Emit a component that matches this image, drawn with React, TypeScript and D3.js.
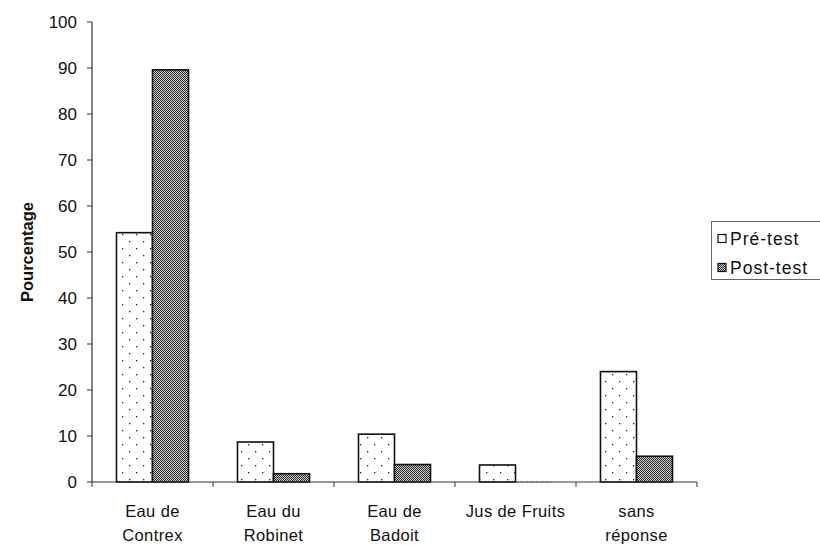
import React from "react";
import * as d3 from "d3";

const categories = ["Eau de\nContrex", "Eau du\nRobinet", "Eau de\nBadoit", "Jus de Fruits", "sans\nréponse"];
const preTest = [54.2, 8.7, 10.4, 3.7, 24.0];
const postTest = [89.6, 1.8, 3.8, 0, 5.6];
const seriesNames = ["Pré-test", "Post-test"];
const yTicks = [0, 10, 20, 30, 40, 50, 60, 70, 80, 90, 100];

const W = 820, H = 545;
const left = 92, right = 697, top = 22, bottom = 482;

export default function App() {
  const x = d3.scaleBand<string>().domain(categories).range([left, right]).paddingInner(0).paddingOuter(0);
  const y = d3.scaleLinear().domain([0, 100]).range([bottom, top]);
  const sub = d3.scaleBand<string>().domain(seriesNames).range([0, x.bandwidth()]).paddingInner(0).paddingOuter(0.68);
  const font = "'Liberation Sans', Arial, sans-serif";
  const data = [preTest, postTest];
  const fills = ["url(#dots)", "url(#dense)"];
  const boundaries = categories.map((c) => (x(c) as number)).concat([right]);

  return (
    <svg width={W} height={H} style={{ position: "absolute", left: 0, top: 0, background: "#fff" }}>
      <defs>
        <pattern id="dots" width="14" height="14" patternUnits="userSpaceOnUse">
          <rect width="14" height="14" fill="#fff" />
          <rect x="3" y="3" width="1.3" height="1.3" fill="#222" />
          <rect x="10" y="10" width="1.3" height="1.3" fill="#222" />
        </pattern>
        <pattern id="dense" width="2" height="2" patternUnits="userSpaceOnUse">
          <rect width="2" height="2" fill="#cfcfcf" />
          <rect x="0" y="0" width="1" height="1" fill="#2a2a2a" />
          <rect x="1" y="1" width="1" height="1" fill="#2a2a2a" />
        </pattern>
      </defs>

      {/* bars */}
      {categories.map((c, i) => (
        <g key={c}>
          {data.map((vals, s) => {
            const v = vals[i];
            const bx = (x(c) as number) + (sub(seriesNames[s]) as number);
            const bw = sub.bandwidth();
            if (v <= 0) {
              return <line key={s} x1={bx} x2={bx + bw} y1={y(0)} y2={y(0)} stroke="#999" strokeDasharray="3,2" />;
            }
            return (
              <rect key={s} x={bx} y={y(v)} width={bw} height={y(0) - y(v)} fill={fills[s]} stroke="#111" strokeWidth={1.6} />
            );
          })}
        </g>
      ))}

      {/* y axis */}
      <line x1={left} x2={left} y1={top} y2={bottom} stroke="#333" strokeWidth={1.2} />
      {yTicks.map((t) => (
        <g key={t}>
          <line x1={left - 5} x2={left} y1={y(t)} y2={y(t)} stroke="#333" strokeWidth={1} />
          <text x={left - 15} y={y(t)} dy="0.36em" textAnchor="end" fontFamily={font} fontSize={17} fill="#111">
            {t}
          </text>
        </g>
      ))}

      {/* x axis */}
      <line x1={left} x2={right} y1={bottom} y2={bottom} stroke="#333" strokeWidth={1.2} />
      {boundaries.map((b, i) => (
        <line key={i} x1={b} x2={b} y1={bottom} y2={bottom + 5} stroke="#333" strokeWidth={1} />
      ))}
      {categories.map((c) => {
        const lines = c.split("\n");
        const cx = (x(c) as number) + x.bandwidth() / 2;
        return (
          <text key={c} x={cx} y={517} textAnchor="middle" fontFamily={font} fontSize={16.5} letterSpacing={0.4} fill="#111">
            {lines.map((l, k) => (
              <tspan key={k} x={cx} dy={k === 0 ? 0 : 24}>
                {l}
              </tspan>
            ))}
          </text>
        );
      })}

      {/* y label */}
      <text
        transform={`translate(33,252) rotate(-90)`}
        textAnchor="middle"
        fontFamily={font}
        fontSize={16.5}
        fontWeight="bold"
        fill="#111"
      >
        Pourcentage
      </text>

      {/* legend */}
      <rect x={711.5} y={221.5} width={115} height={58} fill="#fff" stroke="#666" strokeWidth={1} />
      {seriesNames.map((n, s) => (
        <g key={n}>
          <rect x={718} y={234.5 + s * 29} width={8} height={8} fill={fills[s]} stroke="#111" strokeWidth={1.2} />
          <text x={730} y={238.5 + s * 29} dy="0.36em" fontFamily={font} fontSize={17.5} letterSpacing={1} fill="#111">
            {n}
          </text>
        </g>
      ))}
    </svg>
  );
}
